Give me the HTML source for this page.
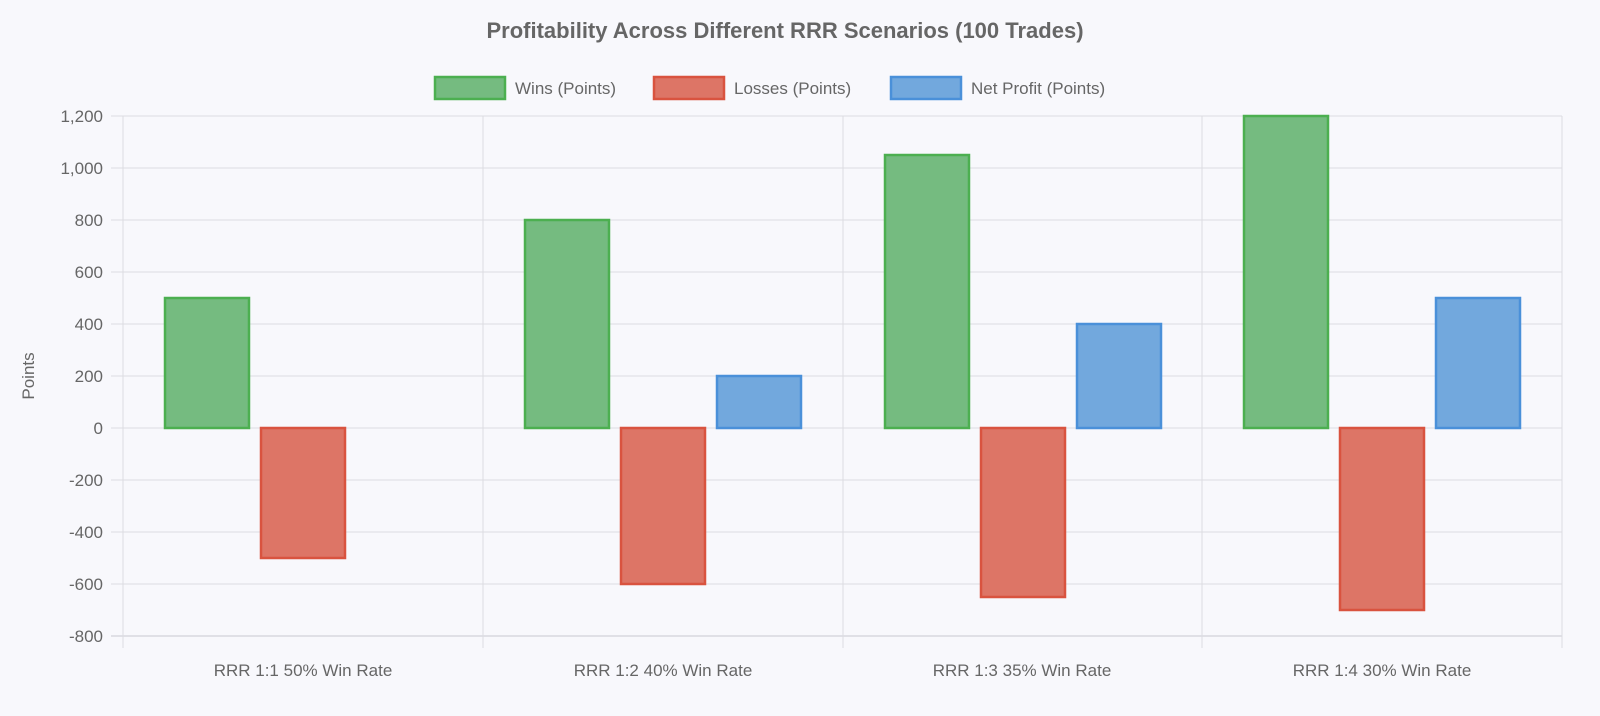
<!DOCTYPE html>
<html><head><meta charset="utf-8"><style>
html,body{margin:0;padding:0;background:#f8f8fc;}
svg{display:block;font-family:"Liberation Sans",Arial,sans-serif;}
</style></head><body>
<svg width="1600" height="716" viewBox="0 0 1600 716">
<rect width="1600" height="716" fill="#f8f8fc"/>
<text x="785" y="38" text-anchor="middle" font-size="22" font-weight="bold" fill="#666">Profitability Across Different RRR Scenarios (100 Trades)</text>
<g font-size="17" fill="#666">
<rect x="435" y="77" width="70" height="22" fill="#75bb80" stroke="#4caf50" stroke-width="2.5"/>
<text x="515" y="94">Wins (Points)</text>
<rect x="654" y="77" width="70" height="22" fill="#dd7566" stroke="#d9533f" stroke-width="2.5"/>
<text x="734" y="94">Losses (Points)</text>
<rect x="891" y="77" width="70" height="22" fill="#72a8dd" stroke="#4a90d9" stroke-width="2.5"/>
<text x="971" y="94">Net Profit (Points)</text>
</g>
<g stroke="#dcdce2" stroke-width="1">
<line x1="111" y1="116" x2="1562" y2="116"/>
<line x1="111" y1="168" x2="1562" y2="168"/>
<line x1="111" y1="220" x2="1562" y2="220"/>
<line x1="111" y1="272" x2="1562" y2="272"/>
<line x1="111" y1="324" x2="1562" y2="324"/>
<line x1="111" y1="376" x2="1562" y2="376"/>
<line x1="111" y1="428" x2="1562" y2="428"/>
<line x1="111" y1="480" x2="1562" y2="480"/>
<line x1="111" y1="532" x2="1562" y2="532"/>
<line x1="111" y1="584" x2="1562" y2="584"/>
<line x1="111" y1="636" x2="1562" y2="636" stroke="#c8c8d0"/>
<line x1="123" y1="116" x2="123" y2="648"/>
<line x1="483" y1="116" x2="483" y2="648"/>
<line x1="843" y1="116" x2="843" y2="648"/>
<line x1="1202" y1="116" x2="1202" y2="648"/>
<line x1="1562" y1="116" x2="1562" y2="648"/>
</g>
<g font-size="17" fill="#666" text-anchor="end">
<text x="103" y="122">1,200</text>
<text x="103" y="174">1,000</text>
<text x="103" y="226">800</text>
<text x="103" y="278">600</text>
<text x="103" y="330">400</text>
<text x="103" y="382">200</text>
<text x="103" y="434">0</text>
<text x="103" y="486">-200</text>
<text x="103" y="538">-400</text>
<text x="103" y="590">-600</text>
<text x="103" y="642">-800</text>
</g>
<text transform="translate(34,376) rotate(-90)" text-anchor="middle" font-size="17" fill="#666">Points</text>
<g font-size="17" fill="#666" text-anchor="middle">
<text x="303" y="676">RRR 1:1 50% Win Rate</text>
<text x="663" y="676">RRR 1:2 40% Win Rate</text>
<text x="1022" y="676">RRR 1:3 35% Win Rate</text>
<text x="1382" y="676">RRR 1:4 30% Win Rate</text>
</g>
<g stroke-width="2.5">
<g fill="#75bb80" stroke="#4caf50">
<rect x="165" y="298" width="84" height="130"/>
<rect x="525" y="220" width="84" height="208"/>
<rect x="885" y="155" width="84" height="273"/>
<rect x="1244" y="116" width="84" height="312"/>
</g>
<g fill="#dd7566" stroke="#d9533f">
<rect x="261" y="428" width="84" height="130"/>
<rect x="621" y="428" width="84" height="156"/>
<rect x="981" y="428" width="84" height="169"/>
<rect x="1340" y="428" width="84" height="182"/>
</g>
<g fill="#72a8dd" stroke="#4a90d9">
<rect x="717" y="376" width="84" height="52"/>
<rect x="1077" y="324" width="84" height="104"/>
<rect x="1436" y="298" width="84" height="130"/>
</g>
</g>
</svg>
</body></html>
